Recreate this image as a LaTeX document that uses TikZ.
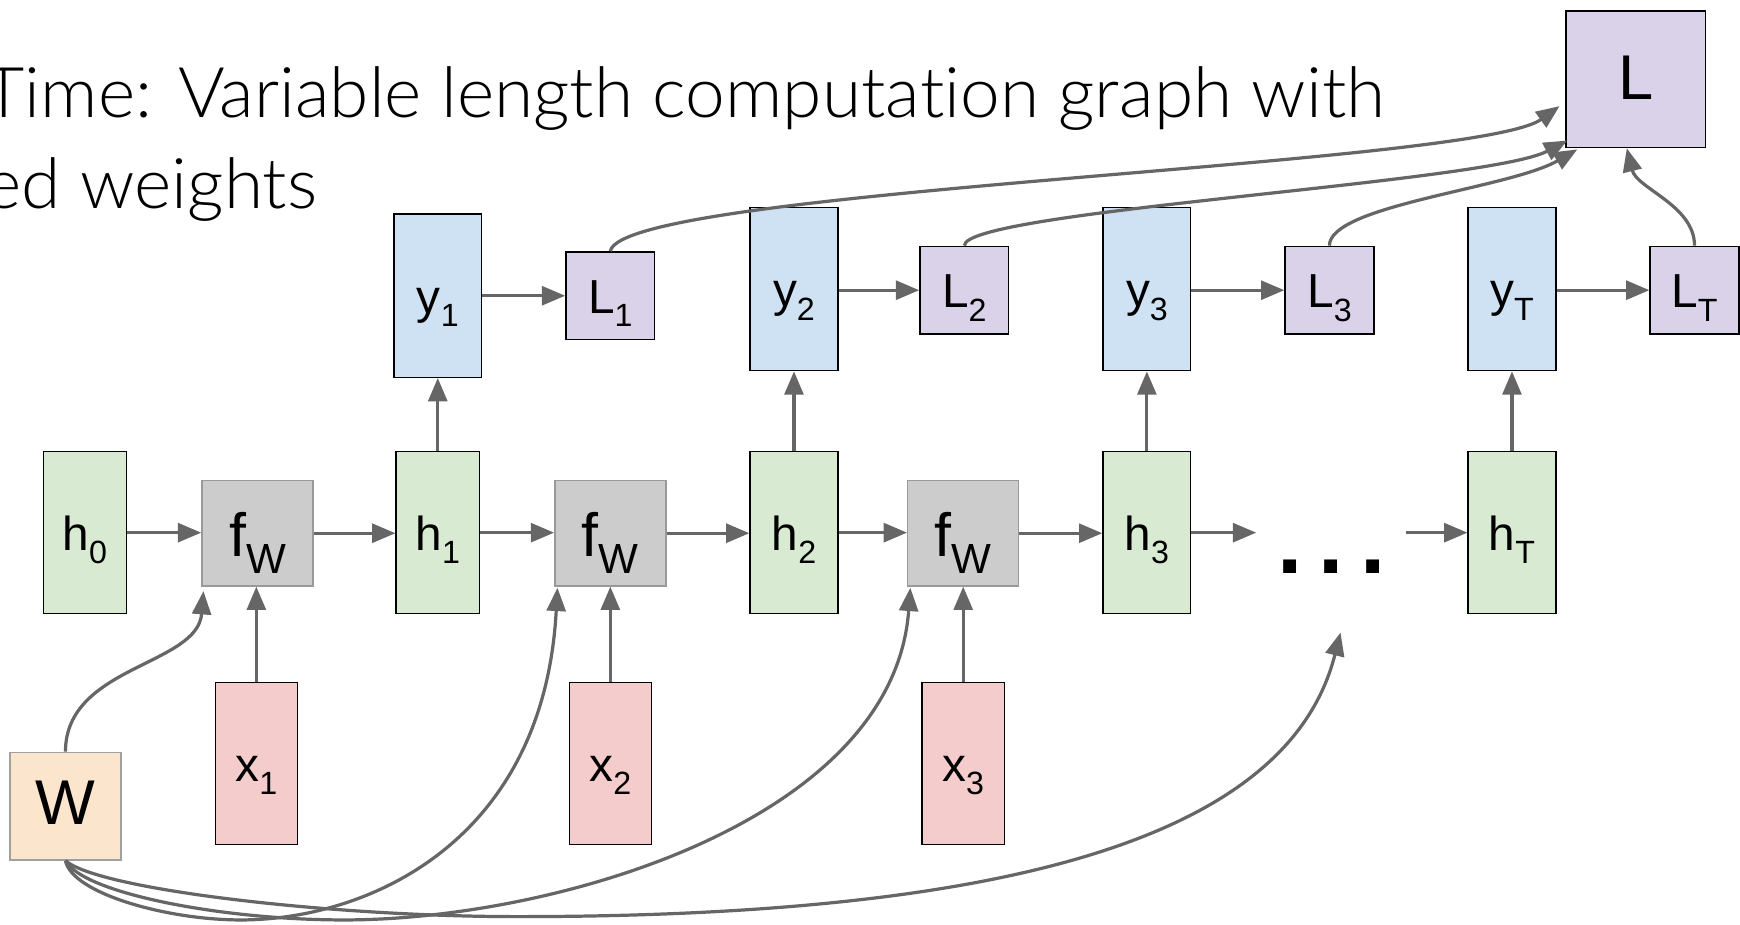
\documentclass[tikz,border=0pt]{standalone}
\usepackage{fontspec}
\usepackage{graphicx}
\usetikzlibrary{arrows.meta}
\setmainfont{Liberation Sans}
\IfFontExistsTF{Lato Light}{\newfontfamily\titlefont{Lato Light}[Ligatures=NoCommon]}{\newfontfamily\titlefont{Lato}[Ligatures=NoCommon]}
\definecolor{ycol}{HTML}{CFE2F3}
\definecolor{lcol}{HTML}{D9D2E9}
\definecolor{hcol}{HTML}{D9EAD3}
\definecolor{xcol}{HTML}{F4CCCC}
\definecolor{fcol}{HTML}{CCCCCC}
\definecolor{fborder}{HTML}{999999}
\definecolor{wcol}{HTML}{FCE5CD}
\definecolor{wborder}{HTML}{A0A0A0}
\definecolor{arrcol}{HTML}{666666}
\newcommand\mysub[1]{\raisebox{-12pt}{\fontsize{29}{29}\selectfont #1}}
\newcommand\fwlabel{{\fontsize{55}{55}\selectfont f}\raisebox{-15pt}{\fontsize{38}{38}\selectfont W}\hspace{10pt}}
\newcommand\titleone{Time: Variable length computation graph with}
\newcommand\titletwo{ed weights}
\newlength\titlew
\begin{document}
\settowidth\titlew{\titlefont\fontsize{63}{63}\selectfont\titleone}
\pgfmathsetmacro\tsx{1263/\titlew}
\begin{tikzpicture}[x=1pt,y=-1pt,
  bx/.style={draw=black, line width=1.3pt, inner sep=0pt, text height=32pt, text depth=0pt, font=\fontsize{43}{43}\selectfont},
  ybox/.style={bx, fill=ycol, minimum width=79pt, minimum height=147pt},
  hbox/.style={bx, fill=hcol, minimum width=75pt, minimum height=146pt},
  xbox/.style={bx, fill=xcol, minimum width=74pt, minimum height=146pt},
  lbox/.style={bx, fill=lcol, minimum width=80pt, minimum height=79pt},
  fbox/.style={bx, draw=fborder, fill=fcol, minimum width=100pt, minimum height=95pt, text height=42pt, font=\fontsize{55}{55}\selectfont},
  wbox/.style={bx, draw=wborder, fill=wcol, minimum width=100pt, minimum height=97pt, text height=33pt, font=\fontsize{57}{57}\selectfont},
  bigl/.style={bx, fill=lcol, minimum width=126pt, minimum height=123pt, text height=37pt, font=\fontsize{57}{57}\selectfont},
  arr/.style={draw=arrcol, line width=2.9pt, -{Triangle[length=21pt,width=17pt]}},
  titletext/.style={anchor=base west, inner sep=0pt, font=\titlefont\fontsize{63}{63}\selectfont}
]
\useasboundingbox (0,0) rectangle (1568,833);
\clip (0,0) rectangle (1568,833);

% title
\node[titletext] (title1) at (-15,106) {\scalebox{\tsx}[1]{\titleone}};
\node[titletext] (title2) at (-14,188) {\scalebox{\tsx}[1]{\titletwo}};

% top row
\node[bigl] (Lbig) at (1474,71.5) {L};
\node[ybox] (y1) at (394.5,266.5) {y\mysub{1}};
\node[lbox] (L1) at (550,266.5) {L\mysub{1}};
\node[ybox] (y2) at (715.5,260.5) {y\mysub{2}};
\node[lbox] (L2) at (869,261.5) {L\mysub{2}};
\node[ybox] (y3) at (1033.5,260.5) {y\mysub{3}};
\node[lbox] (L3) at (1198,261.5) {L\mysub{3}};
\node[ybox] (yT) at (1362.5,260.5) {y\mysub{T}};
\node[lbox] (LT) at (1527,261.5) {L\mysub{T}};

% middle row
\node[hbox] (h0) at (76.5,480) {h\mysub{0}};
\node[fbox] (f1) at (232,480.5) {\fwlabel};
\node[hbox] (h1) at (394.5,480) {h\mysub{1}};
\node[fbox] (f2) at (550,480.5) {\fwlabel};
\node[hbox, minimum width=79pt] (h2) at (715.5,480) {h\mysub{2}};
\node[fbox] (f3) at (868,480.5) {\fwlabel};
\node[hbox, minimum width=79pt] (h3) at (1033.5,480) {h\mysub{3}};
\node[anchor=base, inner sep=0pt, font=\bfseries\fontsize{82}{82}\selectfont] (dots) at (1200,517) {.\kern15pt.\kern15pt.};
\node[hbox, minimum width=79pt] (hT) at (1362.5,480) {h\mysub{T}};

% bottom row
\node[xbox] (x1) at (231,688) {x\mysub{1}};
\node[xbox] (x2) at (550,688) {x\mysub{2}};
\node[xbox] (x3) at (868,688) {x\mysub{3}};
\node[wbox] (W) at (59,726.5) {W};

\coordinate (dotsin) at (1132,480);
\coordinate (dotsout) at (1267,480);
\coordinate (dotsW) at (1208,570);

% horizontal chain
\draw[arr] (h0.east) -- (f1.west |- h0.east);
\draw[arr] (f1.east) -- (h1.west |- f1.east);
\draw[arr] (h1.east) -- (f2.west |- h1.east);
\draw[arr] (f2.east) -- (h2.west |- f2.east);
\draw[arr] (h2.east) -- (f3.west |- h2.east);
\draw[arr] (f3.east) -- (h3.west |- f3.east);
\draw[arr] (h3.east) -- (dotsin);
\draw[arr] (dotsout) -- (hT.west);

% h -> y
\draw[arr] (h1.north) -- (y1.south);
\draw[arr] (h2.north) -- (y2.south);
\draw[arr] (h3.north) -- (y3.south);
\draw[arr] (hT.north) -- (yT.south);

% y -> L
\draw[arr] (y1.east) -- (L1.west |- y1.east);
\draw[arr] (y2.east |- L2.west) -- (L2.west);
\draw[arr] (y3.east |- L3.west) -- (L3.west);
\draw[arr] (yT.east |- LT.west) -- (LT.west);

% x -> f
\draw[arr] (x1.north) -- (x1.north |- f1.south);
\draw[arr] (x2.north) -- (x2.north |- f2.south);
\draw[arr] (x3.north) -- (x3.north |- f3.south);

% W -> f
\draw[arr] (W.north) .. controls (59,600) and (178,600) .. ([shift={(2,4)}]f1.south west);
\draw[arr] (W.south) .. controls (65,805) and (150,829) .. (217,829)
  .. controls (330,829) and (490,760) .. ([shift={(3,1)}]f2.south west);
\draw[arr] (W.south) .. controls (75,805) and (200,829) .. (310,829)
  .. controls (500,829) and (805,740) .. ([shift={(3,1)}]f3.south west);
\draw[arr] (W.south) .. controls (90,802) and (300,826) .. (466,826)
  .. controls (950,826) and (1165,740) .. (dotsW);

% L_t -> L
\draw[arr] (L1.north) .. controls (560,170) and (1330,150) .. ([shift={(-5,-38)}]Lbig.south west);
\draw[arr] (L2.north) .. controls (869,190) and (1340,165) .. ([shift={(2,-7)}]Lbig.south west);
\draw[arr] (L3.north) .. controls (1198,185) and (1360,170) .. ([shift={(11,1)}]Lbig.south west);
\draw[arr] (LT.north) .. controls (1527,185) and (1475,170) .. ([xshift=-8pt]Lbig.south);
\end{tikzpicture}
\end{document}
